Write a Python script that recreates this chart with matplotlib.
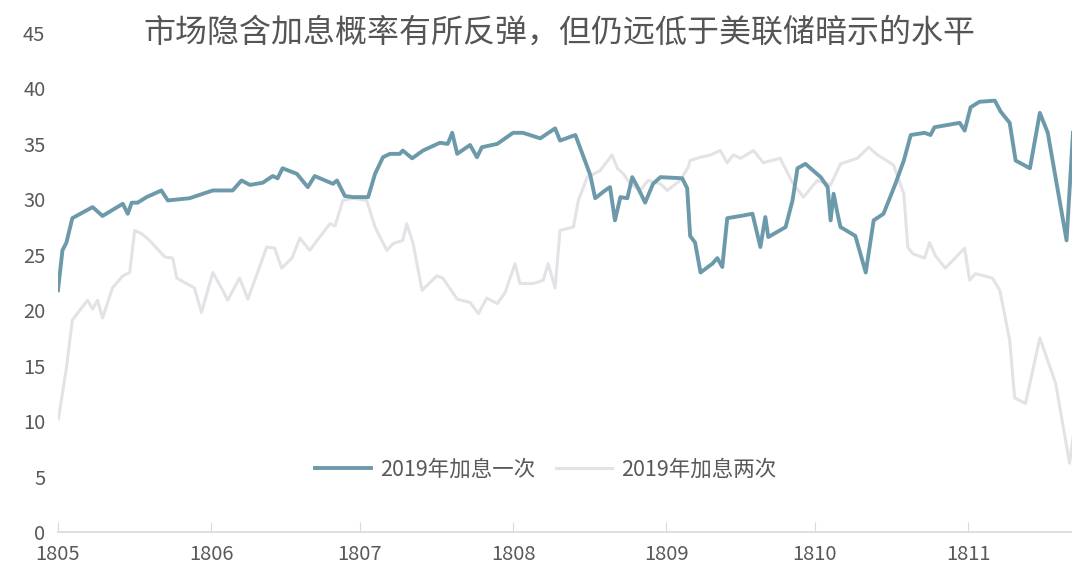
import matplotlib
matplotlib.use("Agg")
import matplotlib.pyplot as plt
import pandas as pd

plt.rcParams['font.family'] = ['Noto Sans CJK SC', 'DejaVu Sans']

title = "市场隐含加息概率有所反弹，但仍远低于美联储暗示的水平"
label_one = "2019年加息一次"
label_two = "2019年加息两次"
start_date = "2018-05-01"
end_date = "2018-11-22"
tick_dates = ["2018-05-01", "2018-06-01", "2018-07-01", "2018-08-01",
              "2018-09-01", "2018-10-01", "2018-11-01"]
tick_labels = ["1805", "1806", "1807", "1808", "1809", "1810", "1811"]
y_ticks = [0, 5, 10, 15, 20, 25, 30, 35, 40, 45]

# days since 2018-05-01 and implied probability (%) - series one
days_one = [0, 0.9, 1.7, 2.9, 3.7, 7.0, 9.0, 13.1, 14.1, 14.9, 16.1, 17.9, 20.9, 22.2,
            26.6, 31.3, 35.3, 37.1, 38.8, 41.4, 43.4, 44.4, 45.4, 48.3, 50.5, 51.9,
            55.6, 56.4, 58.0, 59.6, 62.7, 64.1, 65.7, 67.1, 69.1, 69.7, 71.6, 73.8,
            77.2, 78.8, 79.7, 80.7, 83.3, 84.7, 85.7, 88.8, 92.0, 94.0, 97.5, 100.5,
            101.5, 104.6, 107.6, 108.6, 110.6, 111.6, 112.6, 113.7, 115.1, 116.1,
            117.3, 118.7, 120.3, 121.8, 126.2, 127.2, 127.8, 128.8, 129.9, 132.3,
            133.3, 134.3, 135.3, 138.0, 140.4, 142.0, 143.0, 143.6, 147.1, 148.5,
            149.5, 151.1, 154.2, 155.6, 156.2, 156.8, 157.6, 158.2, 161.2, 163.3,
            164.9, 166.9, 169.3, 171.0, 172.4, 175.2, 176.4, 177.2, 182.3, 183.3,
            184.5, 186.3, 189.4, 190.6, 192.4, 193.6, 196.5, 198.5, 200.1, 203.9, 205.2]
vals_one = [21.8, 25.4, 26.1, 28.3, 28.5, 29.3, 28.5, 29.6, 28.7, 29.7, 29.7, 30.2, 30.8, 29.9,
            30.1, 30.8, 30.8, 31.7, 31.3, 31.5, 32.1, 31.9, 32.8, 32.3, 31.1, 32.1,
            31.4, 31.7, 30.3, 30.2, 30.2, 32.3, 33.8, 34.1, 34.1, 34.4, 33.7, 34.4,
            35.1, 35.0, 36.0, 34.1, 34.9, 33.8, 34.7, 35.0, 36.0, 36.0, 35.5, 36.4,
            35.3, 35.8, 32.2, 30.1, 30.8, 31.1, 28.1, 30.2, 30.1, 32.0,
            31.0, 29.7, 31.4, 32.0, 31.9, 31.0, 26.7, 26.1, 23.4, 24.2,
            24.7, 23.9, 28.3, 28.5, 28.7, 25.7, 28.4, 26.6, 27.5, 29.9,
            32.8, 33.2, 32.0, 31.1, 28.1, 30.5, 28.7, 27.5, 26.7, 23.4,
            28.1, 28.7, 31.4, 33.5, 35.8, 36.0, 35.8, 36.5, 36.9, 36.2,
            38.3, 38.8, 38.9, 37.9, 36.9, 33.5, 32.8, 37.8, 36.0, 26.3, 36.0]

# series two
days_two = [0.1, 1.7, 2.9, 4.4, 6.0, 7.0, 8.0, 9.0, 11.0, 13.1, 14.5, 15.5, 16.9, 18.5,
            21.6, 23.2, 24.0, 26.0, 27.6, 29.0, 31.3, 33.3, 34.3, 36.7, 38.4, 42.2,
            43.8, 45.2, 47.3, 48.9, 50.9, 52.9, 55.0, 56.0, 57.6, 59.6, 62.4, 64.1,
            65.1, 66.5, 67.7, 69.7, 70.5, 71.8, 73.6, 76.6, 77.8, 80.7, 83.3, 85.0,
            86.7, 88.8, 90.4, 92.4, 93.4, 96.1, 98.1, 99.1, 100.5, 101.5, 104.2,
            105.2, 107.0, 109.6, 112.0, 113.1, 114.3, 115.7, 117.7, 119.3, 121.8,
            123.2, 125.8, 127.4, 127.8, 129.9, 131.9, 133.9, 135.3, 136.5, 138.0,
            140.6, 142.6, 146.0, 148.5, 150.7, 153.5, 156.2, 158.2, 161.6, 163.9,
            165.7, 168.9, 171.0, 171.8, 172.8, 175.2, 176.2, 177.4, 179.4, 183.3,
            184.3, 185.5, 188.9, 190.4, 192.4, 193.4, 195.6, 198.5, 201.7, 204.5, 205.2]
vals_two = [10.2, 14.8, 19.1, 20.0, 20.9, 20.1, 20.9, 19.3, 22.0, 23.1, 23.4, 27.2, 26.9, 26.3,
            24.8, 24.7, 22.9, 22.4, 22.0, 19.8, 23.4, 21.8, 20.9, 22.9, 21.0, 25.7,
            25.6, 23.8, 24.7, 26.5, 25.4, 26.6, 27.8, 27.6, 29.9, 30.1, 29.9, 27.5,
            26.6, 25.4, 26.0, 26.3, 27.8, 26.0, 21.8, 23.1, 22.9, 21.0, 20.7, 19.7,
            21.1, 20.6, 21.6, 24.2, 22.4, 22.4, 22.7, 24.2, 22.0, 27.2, 27.5,
            29.9, 32.0, 32.6, 34.0, 32.8, 32.3, 31.4, 30.8, 31.7, 31.4,
            30.8, 31.7, 32.9, 33.5, 33.8, 34.0, 34.4, 33.3, 34.0, 33.7,
            34.4, 33.3, 33.7, 31.5, 30.2, 31.7, 31.3, 33.2, 33.7, 34.7,
            34.0, 33.1, 30.5, 25.7, 25.1, 24.7, 26.1, 24.9, 23.8, 25.6,
            22.7, 23.3, 22.9, 21.8, 17.3, 12.1, 11.6, 17.5, 13.4, 6.2, 8.5]

base = pd.Timestamp(start_date)
x_one = base + pd.to_timedelta(days_one, unit="D")
x_two = base + pd.to_timedelta(days_two, unit="D")

dark = "#6d9aab"
light = "#e3e3e7"
text_col = "#595959"

fig = plt.figure(figsize=(10.72, 5.76), dpi=100)
ax = fig.add_axes([0.0541, 0.0764, 0.9459, 0.8663])

ax.plot(x_two, vals_two, color=light, lw=2.2, label=label_two, zorder=2)
ax.plot(x_one, vals_one, color=dark, lw=2.8, label=label_one, zorder=3)

ax.set_xlim(pd.Timestamp(start_date), pd.Timestamp(end_date))
ax.set_ylim(0, 45)
ax.set_yticks(y_ticks)
ax.set_xticks(pd.to_datetime(tick_dates))
ax.set_xticklabels(tick_labels)

for s in ["top", "right", "left"]:
    ax.spines[s].set_visible(False)
ax.spines["bottom"].set_color("#d9d9d9")
ax.spines["bottom"].set_linewidth(1.2)
ax.tick_params(axis="y", length=0, pad=9, labelsize=14.5, labelcolor=text_col)
ax.tick_params(axis="x", direction="in", length=7, color="#d9d9d9", pad=9,
               labelsize=14.5, labelcolor=text_col)

handles, labels = ax.get_legend_handles_labels()
leg = ax.legend(handles[::-1], labels[::-1], loc="center", bbox_to_anchor=(0.481, 0.125),
                ncol=2, frameon=False, fontsize=15.5, handlelength=2.6, columnspacing=1.0,
                handletextpad=0.4)
for t in leg.get_texts():
    t.set_color(text_col)

fig.text(0.522, 1 - 33 / 576, title, ha="center", va="center", fontsize=23, color="#555555")

fig.savefig("out.png", dpi=100)
